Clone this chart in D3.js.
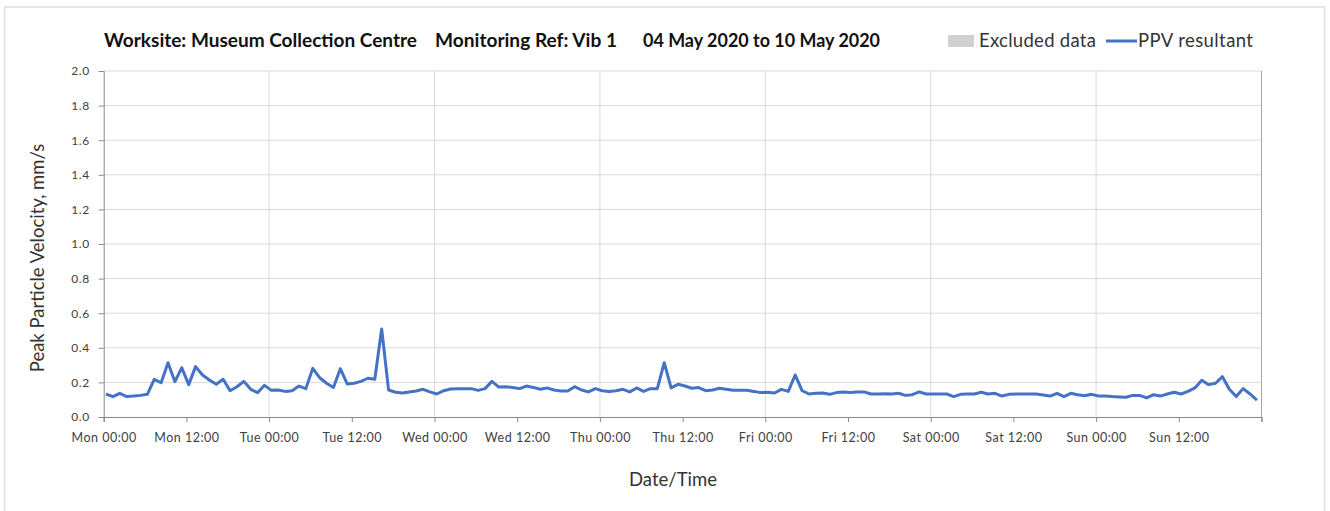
<!DOCTYPE html>
<html>
<head>
<meta charset="utf-8">
<script src="https://cdn.jsdelivr.net/npm/d3@7"></script>
<style>
  body { margin: 0; background: #fff; }
  svg text { font-family: Lato, "Open Sans", sans-serif; fill: #333; }
</style>
</head>
<body>
<div id="chart"></div>
<script>
// hourly PPV readings, Mon 04 May 2020 00:20 onwards (mm/s)
var monValues = [0.133,0.118,0.137,0.118,0.121,0.125,0.131,0.218,0.198,0.314,0.204,0.285,
                 0.187,0.291,0.243,0.214,0.189,0.218,0.152,0.175,0.206,0.160,0.141,0.183];
var tueValues = [0.154,0.156,0.148,0.152,0.179,0.164,0.281,0.227,0.195,0.171,0.279,0.191,
                 0.195,0.206,0.224,0.218,0.509,0.156,0.143,0.139,0.145,0.150,0.160,0.145];
var wedValues = [0.133,0.152,0.162,0.164,0.164,0.164,0.154,0.164,0.206,0.173,0.175,0.171,
                 0.164,0.179,0.171,0.160,0.168,0.156,0.150,0.150,0.175,0.156,0.145,0.164];
var thuValues = [0.152,0.148,0.152,0.160,0.145,0.168,0.148,0.164,0.164,0.314,0.168,0.189,
                 0.179,0.166,0.170,0.152,0.156,0.166,0.160,0.154,0.154,0.154,0.148,0.141];
var friValues = [0.143,0.139,0.160,0.148,0.243,0.152,0.133,0.137,0.139,0.131,0.141,0.145,
                 0.141,0.145,0.145,0.133,0.133,0.135,0.133,0.137,0.125,0.129,0.145,0.133];
var satValues = [0.133,0.133,0.133,0.118,0.131,0.133,0.133,0.143,0.133,0.137,0.121,0.131,
                 0.133,0.133,0.133,0.133,0.127,0.121,0.137,0.118,0.137,0.129,0.123,0.131];
var sunValues = [0.121,0.121,0.118,0.116,0.114,0.125,0.125,0.110,0.129,0.121,0.133,0.143,
                 0.133,0.148,0.168,0.212,0.187,0.195,0.233,0.160,0.118,0.164,0.133,0.098];

var startTime = Date.UTC(2020, 4, 4, 0, 20);
var endTime = Date.UTC(2020, 4, 11, 0, 0);
var yTicks = [0,0.2,0.4,0.6,0.8,1.0,1.2,1.4,1.6,1.8,2.0];

var titleParts = ["Worksite: Museum Collection Centre", "Monitoring Ref: Vib 1", "04 May 2020 to 10 May 2020"];
var legendLabels = ["Excluded data", "PPV resultant"];

var allValues = [].concat(monValues, tueValues, wedValues, thuValues, friValues, satValues, sunValues);
var data = allValues.map(function(v, i){
  return { date: new Date(startTime + i * 3600000), value: v };
});

var width = 1330, height = 511;
var margin = {top: 71, right: 68.5, bottom: 94, left: 103.7};

var svg = d3.select("#chart").append("svg")
  .attr("width", width)
  .attr("height", height);

// outer chart border
svg.append("rect")
  .attr("x", 4.5).attr("y", 7)
  .attr("width", 1320).attr("height", 520)
  .style("fill", "none")
  .style("stroke", "#e0e0e0")
  .style("stroke-width", 1.6);

var x = d3.scaleUtc()
  .domain([new Date(Date.UTC(2020, 4, 4)), new Date(endTime)])
  .range([margin.left, width - margin.right]);

var y = d3.scaleLinear()
  .domain([0, 2])
  .range([height - margin.bottom, margin.top]);

// gridlines
svg.append("g").selectAll("line.h")
  .data(yTicks.slice(1))
  .enter().append("line")
  .attr("x1", margin.left).attr("x2", width - margin.right)
  .attr("y1", function(d){ return y(d); })
  .attr("y2", function(d){ return y(d); })
  .style("stroke", "#d9d9d9");

svg.append("g").selectAll("line.v")
  .data(d3.utcDay.range(new Date(Date.UTC(2020, 4, 5)), new Date(endTime)))
  .enter().append("line")
  .attr("x1", function(d){ return x(d); })
  .attr("x2", function(d){ return x(d); })
  .attr("y1", y(2)).attr("y2", y(0))
  .style("stroke", "#d9d9d9");

// right edge
svg.append("line")
  .attr("x1", x(new Date(endTime))).attr("x2", x(new Date(endTime)))
  .attr("y1", y(2)).attr("y2", y(0))
  .style("stroke", "#a6a6a6");

// axes
var xAxis = d3.axisBottom(x)
  .tickValues(d3.utcHour.every(12).range(new Date(Date.UTC(2020, 4, 4)), new Date(endTime + 1)))
  .tickFormat(function(d){ return d.getTime() === endTime ? "" : d3.utcFormat("%a %H:%M")(d); })
  .tickSize(5)
  .tickPadding(11);

var gx = svg.append("g")
  .attr("transform", "translate(0," + y(0) + ")")
  .call(xAxis);
gx.select(".domain").style("stroke", "#898989");
gx.selectAll(".tick line").style("stroke", "#898989");
gx.selectAll(".tick text")
  .style("font-size", "12.5px")
  .style("letter-spacing", "0.5px")
  .style("fill", "#404040");

var yAxis = d3.axisLeft(y)
  .tickValues(yTicks)
  .tickFormat(d3.format(".1f"))
  .tickSize(5)
  .tickPadding(9);

var gy = svg.append("g")
  .attr("transform", "translate(" + margin.left + ",0)")
  .call(yAxis);
gy.select(".domain").style("stroke", "#898989");
gy.selectAll(".tick line").style("stroke", "#898989");
gy.selectAll(".tick text")
  .style("font-size", "12px")
  .style("letter-spacing", "0.6px")
  .style("fill", "#404040");

// PPV line
var line = d3.line()
  .x(function(d){ return x(d.date); })
  .y(function(d){ return y(d.value); });

svg.append("path")
  .datum(data)
  .attr("d", line)
  .style("fill", "none")
  .style("stroke", "#4472c4")
  .style("stroke-width", 3)
  .style("stroke-linejoin", "round");

// title
var titleX = [104, 435, 643];
var titleW = [313, 182, 237];
svg.selectAll("text.title")
  .data(titleParts)
  .enter().append("text")
  .attr("class", "title")
  .attr("x", function(d, i){ return titleX[i]; })
  .attr("y", 47)
  .attr("textLength", function(d, i){ return titleW[i]; })
  .attr("lengthAdjust", "spacingAndGlyphs")
  .style("font-size", "18px")
  .style("font-weight", "bold")
  .style("fill", "#111")
  .text(function(d){ return d; });

// legend
var legend = svg.append("g");
legend.append("rect")
  .attr("x", 948).attr("y", 35)
  .attr("width", 26).attr("height", 12)
  .style("fill", "#d0d0d0");
legend.append("text")
  .attr("x", 979).attr("y", 47)
  .attr("textLength", 117)
  .style("font-size", "18.5px")
  .text(legendLabels[0]);
legend.append("line")
  .attr("x1", 1106).attr("x2", 1137)
  .attr("y1", 41).attr("y2", 41)
  .style("stroke", "#4472c4")
  .style("stroke-width", 3);
legend.append("text")
  .attr("x", 1138).attr("y", 47)
  .attr("textLength", 115)
  .style("font-size", "18.5px")
  .text(legendLabels[1]);

// axis titles
svg.append("text")
  .attr("transform", "translate(44,258) rotate(-90)")
  .style("text-anchor", "middle")
  .style("font-size", "18.5px")
  .text("Peak Particle Velocity, mm/s");

svg.append("text")
  .attr("x", 673)
  .attr("y", 486)
  .style("text-anchor", "middle")
  .style("font-size", "18.5px")
  .text("Date/Time");
</script>
</body>
</html>
